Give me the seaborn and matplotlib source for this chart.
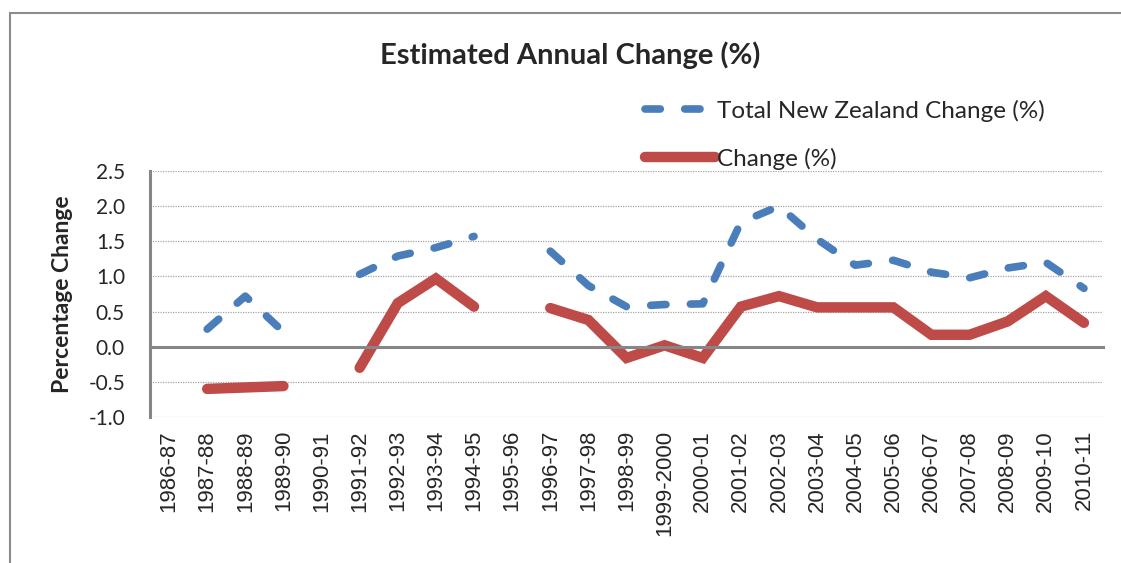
import numpy as np
import pandas as pd
import seaborn as sns
import matplotlib.pyplot as plt
from matplotlib.lines import Line2D
from matplotlib.patches import Rectangle
from matplotlib.ticker import FormatStrFormatter

years = ['1986-87', '1987-88', '1988-89', '1989-90', '1990-91', '1991-92', '1992-93',
         '1993-94', '1994-95', '1995-96', '1996-97', '1997-98', '1998-99', '1999-2000',
         '2000-01', '2001-02', '2002-03', '2003-04', '2004-05', '2005-06', '2006-07',
         '2007-08', '2008-09', '2009-10', '2010-11']
nz_total = [np.nan, 0.25, 0.72, 0.21, np.nan, 1.03, 1.29, 1.41, 1.57, np.nan, 1.36, 0.87,
            0.57, 0.60, 0.61, 1.77, 2.00, 1.53, 1.16, 1.23, 1.06, 0.98, 1.12, 1.20, 0.83]
change = [np.nan, -0.60, -0.58, -0.56, np.nan, -0.30, 0.62, 0.97, 0.57, np.nan, 0.55, 0.38,
          -0.16, 0.02, -0.16, 0.57, 0.72, 0.56, 0.56, 0.56, 0.17, 0.17, 0.36, 0.72, 0.34]

blue = '#4A7EBB'
red = '#BE4B48'
grey = '#868686'

sns.set_style('white')
plt.rcParams['font.family'] = ['Lato', 'DejaVu Sans']
plt.rcParams['axes.unicode_minus'] = False


def segments(values):
    # split a series into runs between missing values so lines break at gaps
    df = pd.DataFrame({'x': np.arange(len(values)), 'value': values})
    df['seg'] = df['value'].isna().cumsum()
    return df.dropna()


fig = plt.figure(figsize=(11.21, 5.63), dpi=100)
ax = fig.add_axes([150 / 1121, 1 - 417 / 563, (1103 - 150) / 1121, (417 - 171) / 563])

sns.lineplot(data=segments(nz_total), x='x', y='value', units='seg', estimator=None,
             color=blue, lw=5.5, linestyle=(0, (2, 3.2)), dash_capstyle='round', ax=ax)
sns.lineplot(data=segments(change), x='x', y='value', units='seg', estimator=None,
             color=red, lw=7.5, solid_capstyle='round', solid_joinstyle='miter', ax=ax)

ax.set_xlim(-0.5, len(years) - 0.5)
ax.set_ylim(-1, 2.5)
ax.set_yticks(np.arange(-1, 2.51, 0.5))
ax.yaxis.set_major_formatter(FormatStrFormatter('%.1f'))
ax.yaxis.grid(True, linestyle=(0, (1, 1)), color='#a6a6a6', lw=0.9)
ax.set_axisbelow(True)

for s in ['top', 'right']:
    ax.spines[s].set_visible(False)
ax.spines['left'].set_color(grey)
ax.spines['left'].set_linewidth(2.2)
ax.spines['bottom'].set_position(('data', 0))
ax.spines['bottom'].set_color(grey)
ax.spines['bottom'].set_linewidth(2.2)

ax.set_xticks(np.arange(len(years)))
ax.set_xticklabels(years, rotation=90, family='Liberation Sans', fontsize=16)
ax.set_xticks(np.arange(-0.5, len(years), 1), minor=True)
ax.tick_params(axis='x', which='major', length=0, pad=60)
ax.tick_params(axis='x', which='minor', length=6, width=2, color=grey, direction='out')
ax.tick_params(axis='y', length=6, width=2, color=grey, direction='out', pad=12, labelsize=15)

ax.set_xlabel('')
ax.set_ylabel('Percentage Change', fontsize=16.5, fontweight='bold')
ax.yaxis.set_label_coords(-(150 - 73) / 953, 0.5)

fig.text(570 / 1121, 1 - 55 / 563, 'Estimated Annual Change (%)', ha='center', va='center',
         fontsize=21, fontweight='bold')

handles = [Line2D([], [], color=blue, lw=5.5, linestyle=(0, (2, 3.2)), dash_capstyle='round'),
           Line2D([], [], color=red, lw=7.5, solid_capstyle='round')]
fig.legend(handles, ['Total New Zealand Change (%)', 'Change (%)'], loc='upper left',
           bbox_to_anchor=(623 / 1121, 1 - 78 / 563), frameon=False, fontsize=17.5,
           handlelength=2.9, handletextpad=0.05, labelspacing=1.05)

fig.add_artist(Rectangle((10 / 1121, -0.1), 1.2, 1 - 13 / 563 + 0.1, transform=fig.transFigure,
                         fill=False, edgecolor='#8c8c8c', lw=1.5))

fig.savefig('out.png', dpi=100)
